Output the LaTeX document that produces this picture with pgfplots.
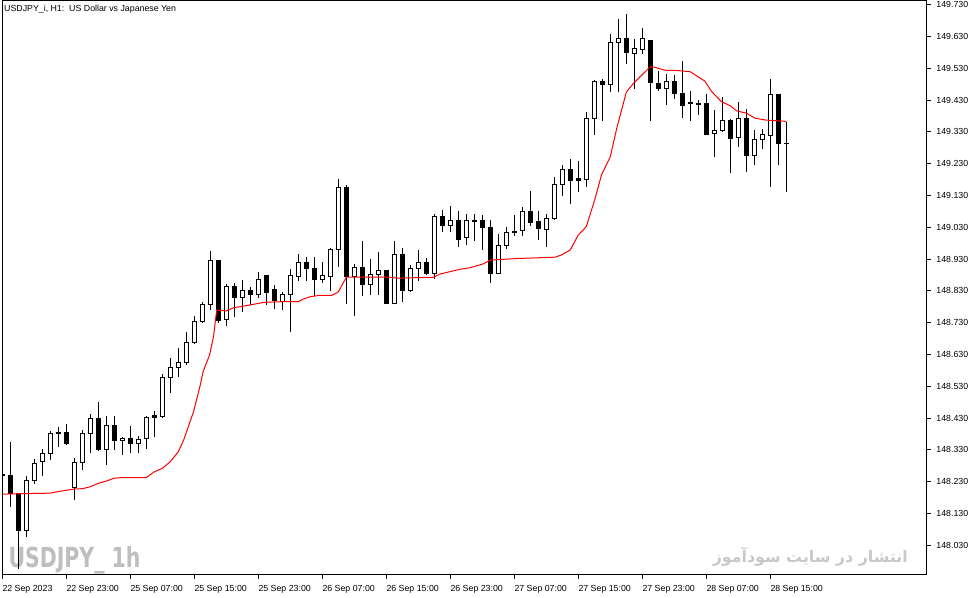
\documentclass[border=0pt]{standalone}
\usepackage{graphicx}
\usepackage{pgfplots}
\pgfplotsset{compat=1.18}
\usepackage{pgfplotstable}
\usepackage{fontspec}
\setmainfont{Liberation Sans}
\newfontfamily\wmfont{DejaVu Sans Condensed Bold}
\newfontfamily\arabicfont[Script=Arabic]{DejaVu Sans Bold}
\TeXXeTstate=1
\definecolor{wm}{RGB}{190,190,190}
\definecolor{wm2}{RGB}{200,200,200}

\pgfplotstableread{
i o h l c
0 148.254 148.267 148.235 148.248
1 148.251 148.356 148.151 148.194
2 148.194 148.196 147.958 148.076
3 148.076 148.248 148.057 148.235
4 148.235 148.301 148.225 148.288
5 148.293 148.333 148.249 148.319
6 148.319 148.390 148.298 148.382
7 148.385 148.401 148.340 148.381
8 148.385 148.411 148.345 148.349
9 148.211 148.307 148.175 148.291
10 148.291 148.393 148.269 148.382
11 148.380 148.443 148.321 148.429
12 148.429 148.481 148.327 148.330
13 148.332 148.437 148.283 148.407
14 148.407 148.437 148.330 148.359
15 148.359 148.372 148.315 148.367
16 148.367 148.405 148.321 148.351
17 148.351 148.374 148.321 148.363
18 148.367 148.437 148.332 148.432
19 148.437 148.452 148.370 148.432
20 148.434 148.571 148.431 148.558
21 148.558 148.621 148.510 148.590
22 148.590 148.653 148.560 148.606
23 148.604 148.702 148.597 148.668
24 148.667 148.751 148.663 148.734
25 148.734 148.796 148.730 148.788
26 148.788 148.956 148.770 148.926
27 148.926 148.928 148.730 148.738
28 148.741 148.852 148.720 148.843
29 148.843 148.856 148.749 148.810
30 148.810 148.864 148.763 148.832
31 148.832 148.843 148.786 148.819
32 148.819 148.889 148.807 148.867
33 148.880 148.882 148.788 148.824
34 148.833 148.849 148.775 148.799
35 148.798 148.828 148.773 148.819
36 148.819 148.901 148.702 148.877
37 148.875 148.948 148.862 148.920
38 148.920 148.938 148.862 148.901
39 148.901 148.938 148.814 148.867
40 148.867 148.921 148.856 148.877
41 148.875 148.964 148.831 148.959
42 148.959 149.181 148.906 149.156
43 149.156 149.163 148.791 148.875
44 148.875 148.914 148.752 148.904
45 148.904 148.987 148.815 148.851
46 148.849 148.930 148.819 148.882
47 148.882 148.953 148.819 148.893
48 148.893 148.895 148.789 148.791
49 148.791 148.987 148.789 148.945
50 148.945 148.964 148.796 148.830
51 148.830 148.911 148.826 148.901
52 148.901 148.959 148.864 148.920
53 148.920 148.934 148.883 148.885
54 148.885 149.072 148.867 149.065
55 149.065 149.084 149.016 149.036
56 149.036 149.097 149.016 149.051
57 149.051 149.082 148.969 148.992
58 148.999 149.072 148.977 149.051
59 149.052 149.072 148.988 149.047
60 149.050 149.071 148.959 149.029
61 149.030 149.055 148.856 148.885
62 148.885 149.011 148.883 148.974
63 148.974 149.030 148.962 149.014
64 149.018 149.069 149.004 149.013
65 149.021 149.094 149.004 149.079
66 149.079 149.147 149.037 149.045
67 149.048 149.081 148.992 149.027
68 149.024 149.074 148.969 149.058
69 149.058 149.187 149.053 149.165
70 149.165 149.226 149.129 149.212
71 149.212 149.245 149.103 149.177
72 149.182 149.239 149.142 149.177
73 149.181 149.394 149.158 149.373
74 149.373 149.493 149.320 149.488
75 149.490 149.496 149.364 149.480
76 149.478 149.640 149.456 149.612
77 149.612 149.687 149.456 149.624
78 149.624 149.701 149.544 149.580
79 149.577 149.622 149.467 149.591
80 149.590 149.656 149.575 149.624
81 149.619 149.621 149.364 149.485
82 149.483 149.522 149.459 149.467
83 149.467 149.511 149.415 149.488
84 149.490 149.509 149.434 149.450
85 149.451 149.553 149.375 149.412
86 149.423 149.459 149.364 149.419
87 149.420 149.430 149.383 149.416
88 149.418 149.449 149.320 149.323
89 149.324 149.399 149.252 149.335
90 149.334 149.440 149.332 149.366
91 149.366 149.371 149.202 149.308
92 149.312 149.423 149.284 149.373
93 149.373 149.404 149.205 149.257
94 149.257 149.339 149.226 149.307
95 149.307 149.339 149.276 149.322
96 149.320 149.496 149.158 149.448
97 149.448 149.450 149.226 149.293
98 149.295 149.360 149.139 149.293
}\ohlc

\pgfplotstableread{
x y
0 148.191
6 148.194
7 148.199
9 148.207
10 148.208
11 148.214
12 148.225
13 148.232
14 148.241
15 148.243
18 148.243
19 148.261
20 148.272
21 148.293
22 148.324
22.7 148.363
23.9 148.450
24.7 148.529
25.1 148.576
25.9 148.628
26.4 148.686
26.8 148.770
28 148.767
28.9 148.777
30.1 148.782
31 148.786
32.7 148.794
35 148.796
37 148.796
37.6 148.804
38.5 148.812
39.7 148.816
41.2 148.816
42 148.827
43 148.873
48.5 148.873
49.3 148.870
53.9 148.873
54.7 148.883
57.2 148.898
58.5 148.903
60.1 148.915
61 148.927
64.5 148.932
69.1 148.936
69.9 148.943
71 148.959
72 149.006
73 149.032
74.1 149.121
74.9 149.195
76 149.252
76.8 149.341
78 149.455
78.9 149.483
81 149.535
81.6 149.533
82.8 149.524
84.5 149.523
86 149.519
86.8 149.506
87.8 149.490
88.7 149.456
89.9 149.425
91 149.412
91.8 149.396
93 149.389
94.1 149.373
95.5 149.367
97.6 149.364
98 149.363
}\ma

\pgfplotsset{base/.style={scale only axis, width=923.7pt, height=573.3pt,
  xmin=0, xmax=115.46, clip=true}}

\begin{document}
\begin{tikzpicture}
\begin{axis}[base, ymin=147.9388, ymax=149.7417,
  axis line style={black, line width=1pt},
  xtick={0,8,...,96},
  xticklabels={22 Sep 2023,22 Sep 23:00,25 Sep 07:00,25 Sep 15:00,25 Sep 23:00,26 Sep 07:00,26 Sep 15:00,26 Sep 23:00,27 Sep 07:00,27 Sep 15:00,27 Sep 23:00,28 Sep 07:00,28 Sep 15:00},
  ytick={148.03,148.13,148.23,148.33,148.43,148.53,148.63,148.73,148.83,148.93,149.03,149.13,149.23,149.33,149.43,149.53,149.63,149.73},
  xtick pos=bottom, ytick pos=right, yticklabel pos=right,
  tick align=outside, major tick length=4.5pt,
  tick style={black, line width=1pt},
  scaled y ticks=false,
  /pgf/number format/fixed, /pgf/number format/fixed zerofill,
  /pgf/number format/precision=3, /pgf/number format/1000 sep={},
  /pgf/number format/assume math mode=true,
  tick label style={font=\fontsize{8.8}{10}\selectfont, inner sep=0pt},
  xticklabel style={anchor=north west, yshift=-6.3pt},
  yticklabel style={anchor=west, xshift=5.7pt},
]
\node[anchor=base west, inner sep=0pt, text=wm, font=\wmfont\fontsize{29}{30}\selectfont, xshift=6pt, yshift=7pt] at (rel axis cs:0,0) {\resizebox{132pt}{21pt}{USDJPY\_ 1h}};
\node[anchor=south east, inner sep=0pt, text=wm2, xshift=-18pt, yshift=7.3pt] at (rel axis cs:1,0) {\resizebox{195pt}{!}{\arabicfont\beginR انتشار در سایت سودآموز\endR}};
\addplot[only marks, mark size=0pt, mark options={draw=none, fill=none},
  error bars/.cd, y dir=both, y explicit, error mark=none,
  error bar style={draw=black, solid, line width=1pt}]
  table[x=i, y expr={(\thisrow{h}+\thisrow{l})/2}, y error expr={(\thisrow{h}-\thisrow{l})/2}] {\ohlc};
\end{axis}

\begin{axis}[base, ymin=0.0388, ymax=1.8417, hide axis, ybar stacked, bar width=4pt]
\addplot[draw=none, fill=none] table[x=i, y expr={min(\thisrow{o},\thisrow{c})-147.9}] {\ohlc};
\addplot[fill=white, draw=black, line width=1pt] table[x=i, y expr={\thisrow{c}>=\thisrow{o} ? \thisrow{c}-\thisrow{o} : 0}] {\ohlc};
\addplot[fill=black, draw=black, line width=1pt] table[x=i, y expr={\thisrow{c}<\thisrow{o} ? \thisrow{o}-\thisrow{c} : 0}] {\ohlc};
\end{axis}

\begin{axis}[base, ymin=147.9388, ymax=149.7417, hide axis]
\addplot[red, line width=1pt, mark=none] table[x=x, y=y] {\ma};
\node[anchor=north west, inner sep=0pt, font=\fontsize{8.8}{10}\selectfont, xshift=1.7pt, yshift=-3.7pt] at (rel axis cs:0,1) {USDJPY\_i, H1:\ \ US Dollar vs Japanese Yen};
\end{axis}
\pgfresetboundingbox
\path[use as bounding box] (current axis.south west) ++(-2.3pt,-22.7pt) rectangle ++(979pt,597pt);
\end{tikzpicture}
\end{document}
